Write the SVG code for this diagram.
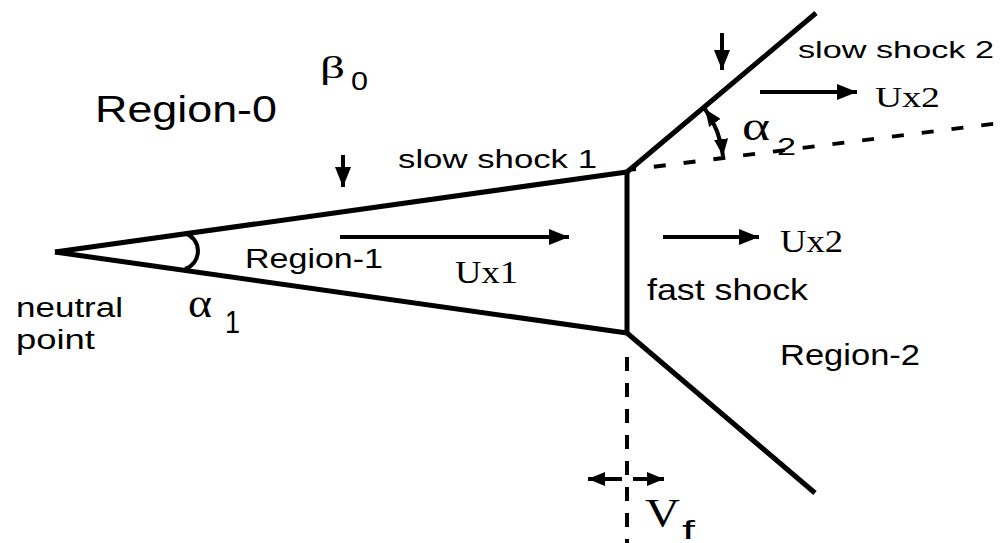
<svg xmlns="http://www.w3.org/2000/svg" width="1003" height="543" viewBox="0 0 1003 543">
<style>
.ln{stroke:#000;stroke-width:5;fill:none;stroke-linecap:butt}
.dash{stroke:#000;stroke-width:4;fill:none}
.arr{stroke:#000;stroke-width:4;fill:none}
.sans{font-family:"Liberation Sans",Arial,sans-serif;fill:#000}
.serif{font-family:"Liberation Serif","Times New Roman",serif;fill:#000}
</style>
<defs>
<marker id="ah" markerUnits="userSpaceOnUse" markerWidth="22" markerHeight="16" refX="20" refY="8" orient="auto">
<path d="M0,0 L20,8 L0,16 z" fill="#000"/>
</marker>
<marker id="ahs" markerUnits="userSpaceOnUse" markerWidth="18" markerHeight="14" refX="17" refY="7" orient="auto">
<path d="M0,0 L17,7 L0,14 z" fill="#000"/>
</marker>
<marker id="ahb" markerUnits="userSpaceOnUse" markerWidth="18" markerHeight="14" refX="17" refY="7" orient="auto-start-reverse">
<path d="M0,0 L17,7 L0,14 z" fill="#000"/>
</marker>
</defs>
<rect width="1003" height="543" fill="#fff"/>
<g id="connectors">
<path class="ln" d="M55,252 L627,172"/>
<path class="ln" d="M55,252 L627,333"/>
<path class="ln" d="M627,172 L627,333"/>
<path class="ln" d="M627,172 L816,13"/>
<path class="ln" d="M627,333 L815,493"/>
<path class="dash" d="M632,169.4 L1000,123" stroke-dasharray="12 18" stroke-dashoffset="-22"/>
<path class="dash" d="M627,357 L627,543" stroke-width="5" stroke-dasharray="14 12"/>
<path class="arr" stroke-width="3.5" d="M185,233 A19,19 0 0 1 185,269"/>
<path class="arr" stroke-width="3.5" d="M705,109 A100,100 0 0 1 723,156" marker-start="url(#ahb)" marker-end="url(#ahb)"/>
<path class="arr" d="M343,155 L343,187" marker-end="url(#ah)"/>
<path class="arr" d="M722,33 L722,70" marker-end="url(#ah)"/>
<path class="arr" d="M340,237 L569,237" marker-end="url(#ah)"/>
<path class="arr" d="M663,237 L759,237" marker-end="url(#ah)"/>
<path class="arr" d="M760,92 L857,92" marker-end="url(#ah)"/>
<path class="arr" d="M622,479 L588,479" marker-end="url(#ahs)"/>
<path class="arr" d="M633,479 L664,479" marker-end="url(#ahs)"/>
</g>
<g id="region0"><text class="sans" x="95" y="122" font-size="37" textLength="182" lengthAdjust="spacingAndGlyphs">Region-0</text></g>
<g id="beta0">
<text class="serif" x="320" y="78" font-size="32" textLength="25" lengthAdjust="spacingAndGlyphs">β</text>
<text class="sans" x="351" y="90" font-size="25" textLength="17" lengthAdjust="spacingAndGlyphs">0</text>
</g>
<g id="slow1"><text class="sans" x="398" y="168" font-size="25" textLength="199" lengthAdjust="spacingAndGlyphs">slow shock 1</text></g>
<g id="slow2"><text class="sans" x="798" y="58" font-size="24" textLength="196" lengthAdjust="spacingAndGlyphs">slow shock 2</text></g>
<g id="ux2top"><text class="serif" x="875" y="107" font-size="29" textLength="65" lengthAdjust="spacingAndGlyphs">Ux2</text></g>
<g id="alpha2">
<text class="serif" x="742" y="140" font-size="40" textLength="28" lengthAdjust="spacingAndGlyphs">α</text>
<text class="sans" x="777" y="155" font-size="24" textLength="19" lengthAdjust="spacingAndGlyphs">2</text>
</g>
<g id="region1"><text class="sans" x="245" y="268" font-size="28" textLength="138" lengthAdjust="spacingAndGlyphs">Region-1</text></g>
<g id="neutral">
<text class="sans" x="16" y="317" font-size="27" textLength="107" lengthAdjust="spacingAndGlyphs">neutral</text>
<text class="sans" x="16" y="349" font-size="27" textLength="79" lengthAdjust="spacingAndGlyphs">point</text>
</g>
<g id="alpha1">
<text class="serif" x="188" y="317" font-size="40" textLength="24" lengthAdjust="spacingAndGlyphs">α</text>
<text class="sans" x="225" y="333" font-size="31" textLength="15" lengthAdjust="spacingAndGlyphs">1</text>
</g>
<g id="ux1"><text class="serif" x="455" y="283" font-size="31" textLength="63" lengthAdjust="spacingAndGlyphs">Ux1</text></g>
<g id="ux2mid"><text class="serif" x="780" y="252" font-size="31" textLength="63" lengthAdjust="spacingAndGlyphs">Ux2</text></g>
<g id="fast"><text class="sans" x="647" y="300" font-size="29" textLength="161" lengthAdjust="spacingAndGlyphs">fast shock</text></g>
<g id="region2"><text class="sans" x="780" y="365" font-size="30" textLength="140" lengthAdjust="spacingAndGlyphs">Region-2</text></g>
<g id="vf">
<text class="serif" x="645" y="526" font-size="40" textLength="35" lengthAdjust="spacingAndGlyphs">V</text>
<text class="sans" x="682" y="539" font-size="26" textLength="13" lengthAdjust="spacingAndGlyphs">f</text>
</g>
</svg>
